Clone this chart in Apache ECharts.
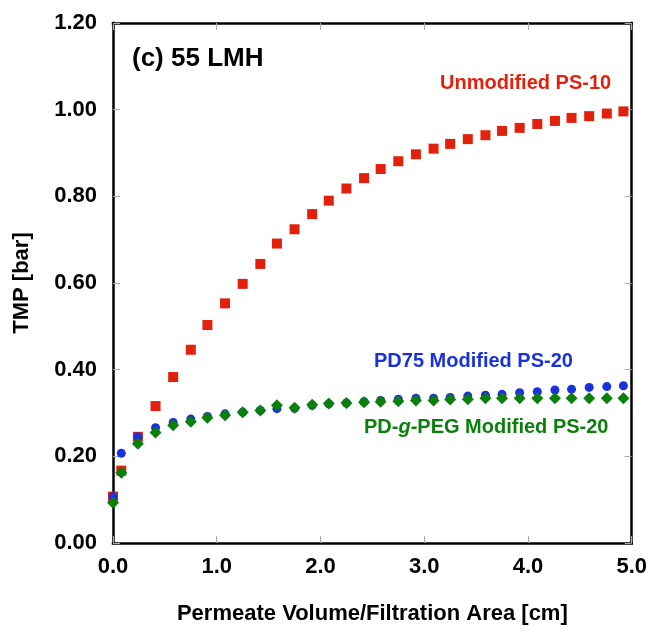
<!DOCTYPE html>
<html lang="en">
<head>
    <meta charset="UTF-8">
    <title>TMP vs permeate volume</title>
    <style>
        html, body { margin: 0; padding: 0; background: #fff; }
        #main { width: 650px; height: 632px; }
    </style>
</head>
<body>
<div id="main"></div>
<script src="https://cdn.jsdelivr.net/npm/echarts@6/dist/echarts.min.js"></script>
<script>
    // permeate volume / filtration area [cm]
    const xValues = [0, 0.08, 0.24, 0.41, 0.58, 0.75, 0.91, 1.08, 1.25, 1.42, 1.58, 1.75, 1.92, 2.08, 2.25, 2.42,
        2.58, 2.75, 2.92, 3.09, 3.25, 3.42, 3.59, 3.75, 3.92, 4.09, 4.26, 4.42, 4.59, 4.76, 4.92];
    // TMP [bar]
    const unmodified = [0.107, 0.167, 0.245, 0.316, 0.383, 0.446, 0.503, 0.553, 0.598, 0.644, 0.691, 0.724, 0.759, 0.790,
        0.818, 0.842, 0.863, 0.881, 0.897, 0.910, 0.921, 0.932, 0.941, 0.951, 0.958, 0.967, 0.974, 0.981, 0.985, 0.991, 0.996];
    const pd75 = [0.107, 0.207, 0.245, 0.266, 0.278, 0.286, 0.292, 0.298, 0.302, 0.306, 0.310, 0.311, 0.318, 0.321,
        0.323, 0.326, 0.329, 0.332, 0.334, 0.334, 0.336, 0.339, 0.341, 0.343, 0.347, 0.349, 0.353, 0.355, 0.359, 0.361, 0.363];
    const pdgpeg = [0.093, 0.162, 0.229, 0.255, 0.272, 0.280, 0.289, 0.295, 0.302, 0.306, 0.318, 0.312, 0.319, 0.322,
        0.323, 0.325, 0.326, 0.327, 0.329, 0.329, 0.331, 0.332, 0.334, 0.334, 0.334, 0.334, 0.334, 0.334, 0.334, 0.334, 0.334];

    const xTicks = ['0.0', '1.0', '2.0', '3.0', '4.0', '5.0'];
    const yTicks = ['0.00', '0.20', '0.40', '0.60', '0.80', '1.00', '1.20'];

    const RED = '#e2200c', BLUE = '#1a32dc', GREEN = '#0b7f0b';
    const FONT = '"Liberation Sans", Arial, Helvetica, sans-serif';

    const pairs = ys => xValues.map((x, i) => [x, ys[i]]);

    // axis with a black frame line and short grey ticks pointing inward
    function frameAxis(extra) {
        return Object.assign({
            type: 'value',
            axisLine: { show: true, onZero: false, lineStyle: { color: '#000', width: 2.5, cap: 'square' } },
            axisTick: { show: true, inside: true, length: 7, lineStyle: { color: '#aaa', width: 1 } },
            splitLine: { show: false }
        }, extra);
    }

    const myChart = echarts.init(document.getElementById('main'));
    myChart.setOption({
        animation: false,
        backgroundColor: '#fff',
        grid: { left: 113, right: 18, top: 23, bottom: 89 },
        xAxis: [
            frameAxis({
                position: 'bottom', min: 0, max: 5, interval: 1,
                axisLabel: {
                    margin: 13, color: '#000', fontFamily: FONT, fontWeight: 'bold', fontSize: 22,
                    formatter: v => xTicks[Math.round(v)]
                },
                name: 'Permeate Volume/Filtration Area [cm]',
                nameLocation: 'middle', nameGap: 60,
                nameTextStyle: { color: '#000', fontFamily: FONT, fontWeight: 'bold', fontSize: 22 }
            }),
            frameAxis({ position: 'top', min: 0, max: 5, interval: 1, axisLabel: { show: false } })
        ],
        yAxis: [
            frameAxis({
                position: 'left', min: 0, max: 1.2, interval: 0.2,
                axisLabel: {
                    margin: 16, color: '#000', fontFamily: FONT, fontWeight: 'bold', fontSize: 22,
                    padding: [6, 0, 0, 0],
                    formatter: v => yTicks[Math.round(v / 0.2)]
                },
                name: 'TMP [bar]',
                nameLocation: 'middle', nameGap: 80,
                nameTextStyle: { color: '#000', fontFamily: FONT, fontWeight: 'bold', fontSize: 22 }
            }),
            frameAxis({ position: 'right', min: 0, max: 1.2, interval: 0.2, axisLabel: { show: false } })
        ],
        series: [
            {
                name: 'Unmodified PS-10', type: 'scatter', data: pairs(unmodified), clip: false,
                symbol: 'rect', symbolSize: 10, itemStyle: { color: RED, opacity: 1 }, z: 3
            },
            {
                name: 'PD75 Modified PS-20', type: 'scatter', data: pairs(pd75), clip: false,
                symbol: 'circle', symbolSize: 9, itemStyle: { color: BLUE, opacity: 1 }, z: 4
            },
            {
                name: 'PD-g-PEG Modified PS-20', type: 'scatter', data: pairs(pdgpeg), clip: false,
                symbol: 'diamond', symbolSize: [12, 12], itemStyle: { color: GREEN, opacity: 1 }, z: 5
            }
        ],
        graphic: [
            {
                type: 'text', left: 132, top: 46,
                style: { text: '(c) 55 LMH', font: 'bold 26px ' + FONT, fill: '#000' }
            },
            {
                type: 'text', left: 440, top: 73,
                style: { text: 'Unmodified PS-10', font: 'bold 20px ' + FONT, fill: RED }
            },
            {
                type: 'text', left: 374, top: 351,
                style: { text: 'PD75 Modified PS-20', font: 'bold 20px ' + FONT, fill: BLUE }
            },
            {
                type: 'text', left: 364, top: 417,
                style: {
                    text: '{a|PD-}{i|g}{a|-PEG Modified PS-20}',
                    rich: {
                        a: { font: 'bold 20px ' + FONT, fill: GREEN, color: GREEN },
                        i: { font: 'italic bold 20px ' + FONT, fill: GREEN, color: GREEN }
                    }
                }
            }
        ]
    });
</script>
</body>
</html>
